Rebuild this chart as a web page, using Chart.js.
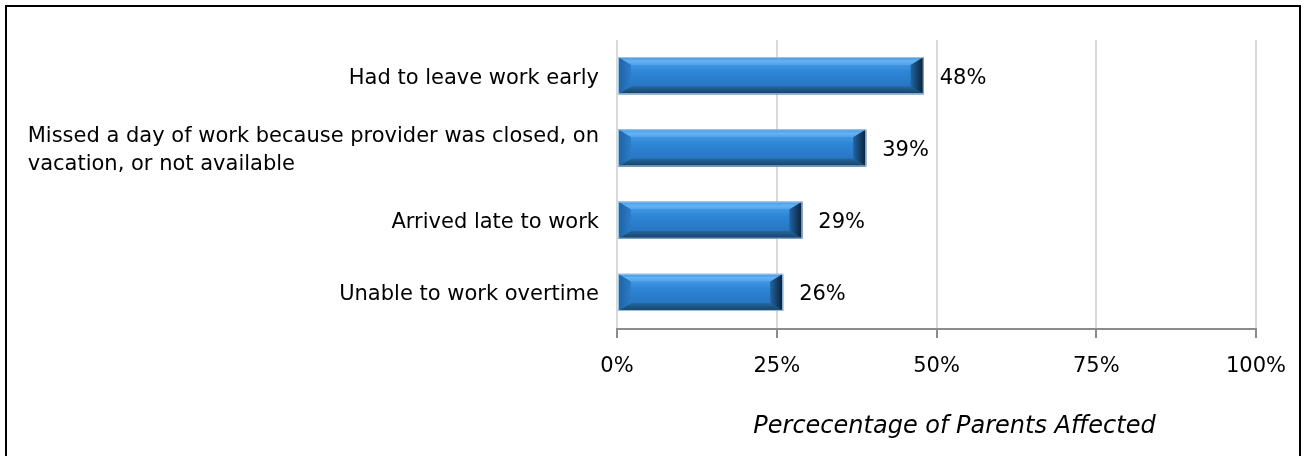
<!DOCTYPE html>
<html>
<head>
<meta charset="utf-8">
<script src="https://cdn.jsdelivr.net/npm/chart.js@4.4.1/dist/chart.umd.min.js"></script>
<style>
    body { margin: 0; background: #fff; }
    #frame {
        position: absolute; left: 5px; top: 5px;
        width: 1296px; height: 470px;
        border: 2px solid #000; box-sizing: border-box;
    }
    #wrap { position: absolute; left: 0; top: 0; width: 1305px; height: 456px; }
</style>
</head>
<body>
<div id="frame"></div>
<div id="wrap"><canvas id="workChart"></canvas></div>
<script>
const categories = [
    "Had to leave work early",
    ["Missed a day of work because provider was closed, on", "vacation, or not available"],
    "Arrived late to work",
    "Unable to work overtime",
];
const parentsAffected = [48, 39, 29, 26];
const xTicks = [0, 25, 50, 75, 100];
const axisTitle = "Percecentage of Parents Affected";

const FONT = "'DejaVu Sans', sans-serif";

// 3D bevelled look on every bar, plus the value label after it
const bevelBars = {
    id: "bevelBars",
    afterDatasetsDraw(chart) {
        const ctx = chart.ctx;
        const values = chart.data.datasets[0].data;
        chart.getDatasetMeta(0).data.forEach((bar, i) => {
            const { x, y, base, height } = bar.getProps(["x", "y", "base", "height"], true);
            const l = base, r = x, t = y - height / 2 - 1, b = y + height / 2;
            const d = 13, dv = 8;

            ctx.save();
            let g = ctx.createLinearGradient(0, t + dv, 0, b - dv);
            g.addColorStop(0, "#3d95e2");
            g.addColorStop(0.3, "#2e86d6");
            g.addColorStop(1, "#2876c4");
            ctx.fillStyle = g;
            ctx.fillRect(l + d, t + dv, r - l - 2 * d, b - t - 2 * dv);

            const poly = (pts, fill) => {
                ctx.beginPath();
                ctx.moveTo(pts[0][0], pts[0][1]);
                pts.slice(1).forEach((p) => ctx.lineTo(p[0], p[1]));
                ctx.closePath();
                ctx.fillStyle = fill;
                ctx.fill();
            };

            g = ctx.createLinearGradient(0, t, 0, t + dv);
            g.addColorStop(0, "#3f96e0");
            g.addColorStop(0.5, "#64b2f4");
            g.addColorStop(1, "#4ea2eb");
            poly([[l, t], [r, t], [r - d, t + dv], [l + d, t + dv]], g);

            g = ctx.createLinearGradient(0, b - dv, 0, b);
            g.addColorStop(0, "#23689f");
            g.addColorStop(1, "#173f63");
            poly([[l, b], [r, b], [r - d, b - dv], [l + d, b - dv]], g);

            g = ctx.createLinearGradient(l, 0, l + d, 0);
            g.addColorStop(0, "#1f62a3");
            g.addColorStop(1, "#2a7cc9");
            poly([[l, t], [l + d, t + dv], [l + d, b - dv], [l, b]], g);

            g = ctx.createLinearGradient(r - d, 0, r, 0);
            g.addColorStop(0, "#2165a3");
            g.addColorStop(1, "#091e33");
            poly([[r, t], [r - d, t + dv], [r - d, b - dv], [r, b]], g);

            ctx.strokeStyle = "#9fc4e6";
            ctx.lineWidth = 1;
            ctx.strokeRect(l + 0.5, t + 0.5, r - l - 1, b - t - 1);

            ctx.font = "21px " + FONT;
            ctx.fillStyle = "#000";
            ctx.textAlign = "left";
            ctx.textBaseline = "middle";
            ctx.fillText(values[i] + "%", r + 16, y + 2);
            ctx.restore();
        });
    },
};

// category labels: wrapped lines share one left edge, block sits right-aligned by the axis
const categoryLabels = {
    id: "categoryLabels",
    afterDraw(chart) {
        const ctx = chart.ctx;
        const yScale = chart.scales.y;
        const area = chart.chartArea;
        const right = area.left - 18;
        const lineH = 28;
        ctx.save();
        ctx.font = "21px " + FONT;
        ctx.fillStyle = "#000";
        ctx.textAlign = "left";
        ctx.textBaseline = "middle";
        chart.data.labels.forEach((label, i) => {
            const lines = Array.isArray(label) ? label : [label];
            const w = Math.max(...lines.map((s) => ctx.measureText(s).width));
            const yc = yScale.getPixelForValue(i);
            lines.forEach((s, j) => {
                ctx.fillText(s, right - w, yc + (j - (lines.length - 1) / 2) * lineH + 2);
            });
        });

        ctx.font = "italic 24px " + FONT;
        ctx.textAlign = "center";
        ctx.fillText(axisTitle, (area.left + area.right) / 2 + 18, 427);
        ctx.restore();
    },
};

const ctx = document.getElementById("workChart").getContext("2d");

new Chart(ctx, {
    type: "bar",
    data: {
        labels: categories,
        datasets: [
            {
                data: parentsAffected,
                backgroundColor: "#2a7fcf",
                borderWidth: 0,
                categoryPercentage: 1,
                barPercentage: 0.5,
            },
        ],
    },
    options: {
        indexAxis: "y",
        responsive: true,
        maintainAspectRatio: false,
        animation: false,
        layout: { padding: { top: 40, right: 49, bottom: 0, left: 0 } },
        plugins: {
            legend: { display: false },
            tooltip: { enabled: false },
        },
        scales: {
            x: {
                min: 0,
                max: 100,
                afterBuildTicks: (scale) => {
                    scale.ticks = xTicks.map((v) => ({ value: v }));
                },
                afterFit: (scale) => {
                    scale.height = 127;
                },
                ticks: {
                    color: "#000",
                    padding: 16,
                    font: { family: FONT, size: 21 },
                    callback: (value) => value + "%",
                },
                grid: {
                    color: "#d9d9d9",
                    lineWidth: 2,
                    tickColor: "#8c8c8c",
                    tickLength: 9,
                    tickWidth: 2,
                },
                border: { color: "#8c8c8c", width: 2 },
            },
            y: {
                ticks: { display: false },
                grid: { display: false },
                border: { display: false },
                afterFit: (scale) => {
                    scale.width = 617;
                },
            },
        },
    },
    plugins: [bevelBars, categoryLabels],
});
</script>
</body>
</html>
